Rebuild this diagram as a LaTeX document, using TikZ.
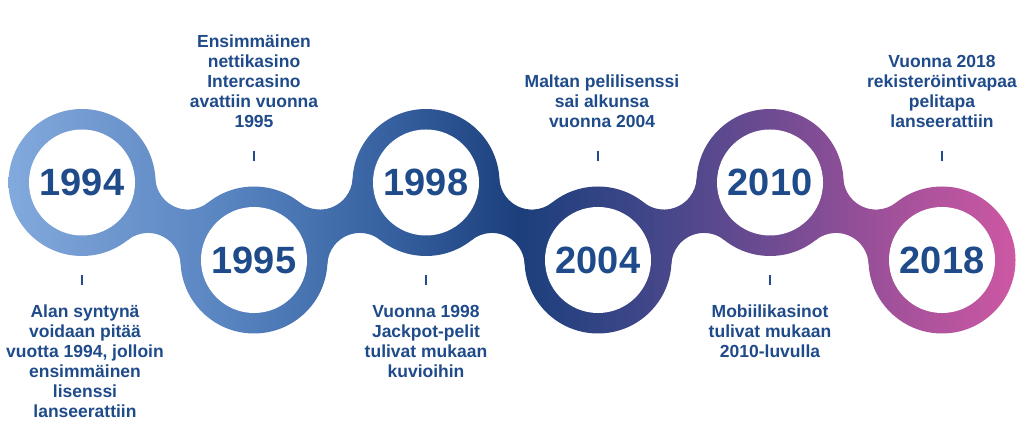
\documentclass[tikz,border=0pt]{standalone}
\usepackage{fontspec}
\setmainfont{Liberation Sans}
\definecolor{txt}{HTML}{1F4B8A}
\definecolor{ga}{HTML}{84ABDE}
\definecolor{gb}{HTML}{7199D0}
\definecolor{gc}{HTML}{5380BD}
\definecolor{gd}{HTML}{345E9D}
\definecolor{ge}{HTML}{1C3F7C}
\definecolor{gf}{HTML}{3E4688}
\definecolor{gg}{HTML}{6E4B92}
\definecolor{gh}{HTML}{A5519B}
\definecolor{gi}{HTML}{D058A4}
\pgfdeclarehorizontalshading{tl}{100bp}{color(0bp)=(ga); color(25bp)=(ga); color(29.88bp)=(gb); color(37.21bp)=(gc); color(44.53bp)=(gd); color(50.39bp)=(ge); color(56.25bp)=(gf); color(62.60bp)=(gg); color(68.95bp)=(gh); color(75bp)=(gi); color(100bp)=(gi)}
\newcommand\lstrut{\rule{0pt}{15pt}}
\begin{document}
\begin{tikzpicture}[x=1pt,y=1pt,
  yearc/.style={circle, fill=white, minimum size=106pt, inner sep=0pt, text=txt, font=\fontsize{38}{40}\selectfont\bfseries},
  lbl/.style={font=\fontsize{17.5}{20}\selectfont\bfseries, text=txt, align=center, inner sep=0pt},
  tickline/.style={draw=txt, line width=1.6pt}]
\fill[white] (0,0) rectangle (1024,438);
\useasboundingbox (0,0) rectangle (1024,438);
% outer rings
\begin{scope}
\clip (82,255.5) circle (73.5) (254,178) circle (73.5) (426,255.5) circle (73.5)
      (598,178) circle (73.5) (770,255.5) circle (73.5) (942,178) circle (73.5);
\shade[shading=tl] (0,0) rectangle (1024,438);
\end{scope}
% connecting bands
\foreach \cx/\cy/\ang in {82/255.5/-24.26, 254/178/24.26, 426/255.5/-24.26, 598/178/24.26, 770/255.5/-24.26}{
  \begin{scope}[shift={(\cx,\cy)}, rotate=\ang]
    \clip (0,0) -- (65.33,33.68) arc[start angle=207.27, end angle=332.73, radius=32.63]
          -- (188.65,0) -- (123.32,-33.68) arc[start angle=27.27, end angle=152.73, radius=32.63] -- cycle;
    \pgftransformreset
    \shade[shading=tl] (0,0) rectangle (1024,438);
  \end{scope}
}
% year circles
\node[yearc] (y1994) at (82,255.5) {1994};
\node[yearc] (y1995) at (254,178) {1995};
\node[yearc] (y1998) at (426,255.5) {1998};
\node[yearc] (y2004) at (598,178) {2004};
\node[yearc] (y2010) at (770,255.5) {2010};
\node[yearc] (y2018) at (942,178) {2018};
% ticks
\foreach \n in {y1995,y2004,y2018}{
  \draw[tickline] ([yshift=46pt]\n.north) -- ([yshift=56pt]\n.north);
}
\foreach \n in {y1994,y1998,y2010}{
  \draw[tickline] ([yshift=-39.5pt]\n.south) -- ([yshift=-49.5pt]\n.south);
}
% labels
\node[lbl, anchor=north] (l1994) at (85,136) {\lstrut Alan syntynä\\voidaan pitää\\vuotta 1994, jolloin\\ensimmäinen\\lisenssi\\lanseerattiin};
\node[lbl, anchor=north] (l1998) at (426,136) {\lstrut Vuonna 1998\\Jackpot-pelit\\tulivat mukaan\\kuvioihin};
\node[lbl, anchor=north] (l2010) at (770,136) {\lstrut Mobiilikasinot\\tulivat mukaan\\2010-luvulla};
\node[lbl, anchor=north] (l1995) at (254,406) {\lstrut Ensimmäinen\\nettikasino\\Intercasino\\avattiin vuonna\\1995};
\node[lbl, anchor=north] (l2004) at (602,366) {\lstrut Maltan pelilisenssi\\sai alkunsa\\vuonna 2004};
\node[lbl, anchor=north] (l2018) at (942,386) {\lstrut Vuonna 2018\\rekisteröintivapaa\\pelitapa\\lanseerattiin};
\end{tikzpicture}
\end{document}
